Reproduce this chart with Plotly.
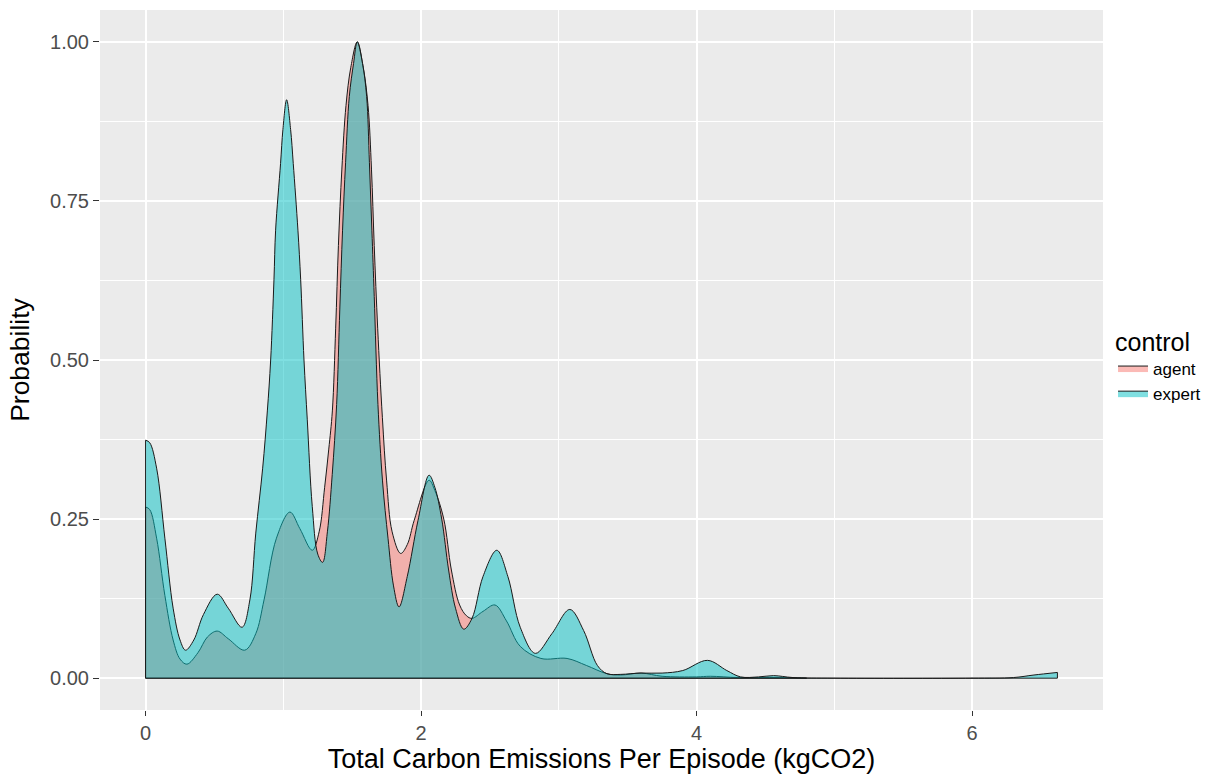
import plotly.graph_objects as go

# ---- data ----
expert_x = [0.00, 0.03, 0.08, 0.14, 0.20, 0.25, 0.29, 0.35, 0.42, 0.52, 0.60, 0.70, 0.757, 0.80,
            0.85, 0.884, 0.908, 0.932, 0.944, 0.98, 0.997, 1.024, 1.053, 1.072, 1.106, 1.126, 1.15,
            1.174, 1.21, 1.25, 1.285,
            1.32, 1.355, 1.387, 1.41, 1.43, 1.452, 1.479, 1.51, 1.537, 1.575, 1.605, 1.625, 1.643,
            1.66, 1.687, 1.72, 1.76, 1.80, 1.84, 1.90,
            1.978, 2.058, 2.10, 2.15, 2.20, 2.25, 2.31, 2.37, 2.45, 2.55, 2.63, 2.72, 2.83,
            2.95, 3.08, 3.18, 3.28, 3.35, 3.45, 3.59, 3.75, 3.90, 4.08, 4.22, 4.32, 4.45, 4.56,
            4.70, 5.00, 6.00, 6.30, 6.45, 6.62]
expert_y = [0.374, 0.370, 0.330, 0.220, 0.110, 0.060, 0.044, 0.060, 0.100, 0.132, 0.110, 0.080, 0.123, 0.228,
            0.330, 0.420, 0.500, 0.626, 0.704, 0.809, 0.862, 0.909, 0.862, 0.809, 0.704, 0.626, 0.500,
            0.406, 0.270, 0.195, 0.182,
            0.230, 0.320, 0.430, 0.580, 0.704, 0.810, 0.914, 0.966, 1.000, 0.966, 0.914, 0.810, 0.704,
            0.600, 0.430, 0.310, 0.220, 0.145, 0.112, 0.160,
            0.248, 0.319, 0.300, 0.250, 0.170, 0.110, 0.077, 0.094, 0.160, 0.201, 0.160, 0.080, 0.039,
            0.070, 0.108, 0.075, 0.020, 0.007, 0.006, 0.008, 0.008, 0.012, 0.028, 0.012, 0.002, 0.002, 0.004,
            0.001, 0.000, 0.000, 0.001, 0.005, 0.009]

agent_x = [0.00, 0.03, 0.08, 0.14, 0.20, 0.25, 0.30, 0.38, 0.45, 0.52, 0.60, 0.72, 0.80, 0.86,
           0.95, 1.048, 1.12, 1.21, 1.26, 1.30, 1.33, 1.356, 1.38, 1.40, 1.425, 1.455, 1.49, 1.537,
           1.58, 1.615, 1.64, 1.66, 1.685, 1.719, 1.75, 1.79,
           1.852, 1.90, 1.95, 2.058, 2.10, 2.165, 2.22, 2.28, 2.33, 2.37, 2.45, 2.537, 2.62, 2.72,
           2.87, 3.06, 3.20, 3.35, 3.45, 3.60, 3.75, 4.00, 4.10, 4.30, 4.60, 4.80]
agent_y = [0.269, 0.265, 0.220, 0.130, 0.060, 0.030, 0.022, 0.040, 0.065, 0.074, 0.062, 0.044, 0.070, 0.123,
           0.220, 0.261, 0.235, 0.201, 0.230, 0.300, 0.360, 0.420, 0.550, 0.680, 0.800, 0.900, 0.960, 1.000,
           0.960, 0.900, 0.800, 0.680, 0.550, 0.410, 0.310, 0.230,
           0.196, 0.210, 0.248, 0.311, 0.295, 0.250, 0.170, 0.115, 0.098, 0.094, 0.105, 0.115, 0.090, 0.050,
           0.031, 0.031, 0.020, 0.007, 0.005, 0.008, 0.003, 0.002, 0.003, 0.001, 0.001, 0.000]

x_ticks = [0, 2, 4, 6]
y_ticks = [0.00, 0.25, 0.50, 0.75, 1.00]
y_tick_labels = ["0.00", "0.25", "0.50", "0.75", "1.00"]

FONT = "Liberation Sans, Arial, sans-serif"
OUTLINE = "#1a1a1a"

series = [
    ("agent", agent_x, agent_y, "rgba(248,118,109,0.5)"),
    ("expert", expert_x, expert_y, "rgba(0,191,196,0.5)"),
]

fig = go.Figure()
for name, xs, ys, fill in series:
    fig.add_trace(go.Scatter(
        x=xs, y=ys, name=name, mode="lines",
        line=dict(color=OUTLINE, width=1, shape="spline", smoothing=1.0),
        fill="tozeroy", fillcolor=fill,
    ))
    # polygon edges (vertical ends + baseline), as ggplot draws them
    fig.add_trace(go.Scatter(
        x=[xs[0], xs[0], xs[-1], xs[-1]], y=[ys[0], 0, 0, ys[-1]],
        mode="lines", line=dict(color=OUTLINE, width=1),
        showlegend=False, hoverinfo="skip",
    ))

fig.update_layout(
    width=1218, height=777,
    margin=dict(l=100, r=115, t=10, b=67, autoexpand=False),
    paper_bgcolor="white", plot_bgcolor="#EBEBEB",
    font=dict(family=FONT, color="black"),
    legend=dict(
        title=dict(text="control", font=dict(size=25, family=FONT, color="black")),
        font=dict(size=17, family=FONT, color="black"),
        x=1.01, xanchor="left", y=0.56, yanchor="top",
        bgcolor="rgba(0,0,0,0)", tracegroupgap=0, itemwidth=30,
    ),
    showlegend=True,
)
fig.update_xaxes(
    range=[-0.331, 6.951], tickvals=x_ticks, ticktext=[str(v) for v in x_ticks],
    showgrid=True, gridcolor="white", gridwidth=1.5,
    minor=dict(tickvals=[1, 3, 5], showgrid=True, gridcolor="white", gridwidth=0.7, ticks=""),
    zeroline=False, showline=False, automargin=False,
    ticks="outside", ticklen=5, tickcolor="#333333", tickwidth=1,
    tickfont=dict(size=20, family=FONT, color="#4D4D4D"),
    title=dict(text="Total Carbon Emissions Per Episode (kgCO2)", font=dict(size=27, family=FONT, color="black"), standoff=2),
)
fig.update_yaxes(
    range=[-0.05, 1.05], tickvals=y_ticks, ticktext=y_tick_labels,
    showgrid=True, gridcolor="white", gridwidth=1.5,
    minor=dict(tickvals=[0.125, 0.375, 0.625, 0.875], showgrid=True, gridcolor="white", gridwidth=0.7, ticks=""),
    zeroline=False, showline=False, automargin=False,
    ticks="outside", ticklen=6, tickcolor="#333333", tickwidth=1,
    tickfont=dict(size=20, family=FONT, color="#4D4D4D"),
    title=dict(text="Probability", font=dict(size=26.5, family=FONT, color="black"), standoff=12),
)

fig.write_html(
    "out.html",
    config={"displayModeBar": False},
    post_script="document.body.style.margin='0';document.body.style.overflow='hidden';",
)
